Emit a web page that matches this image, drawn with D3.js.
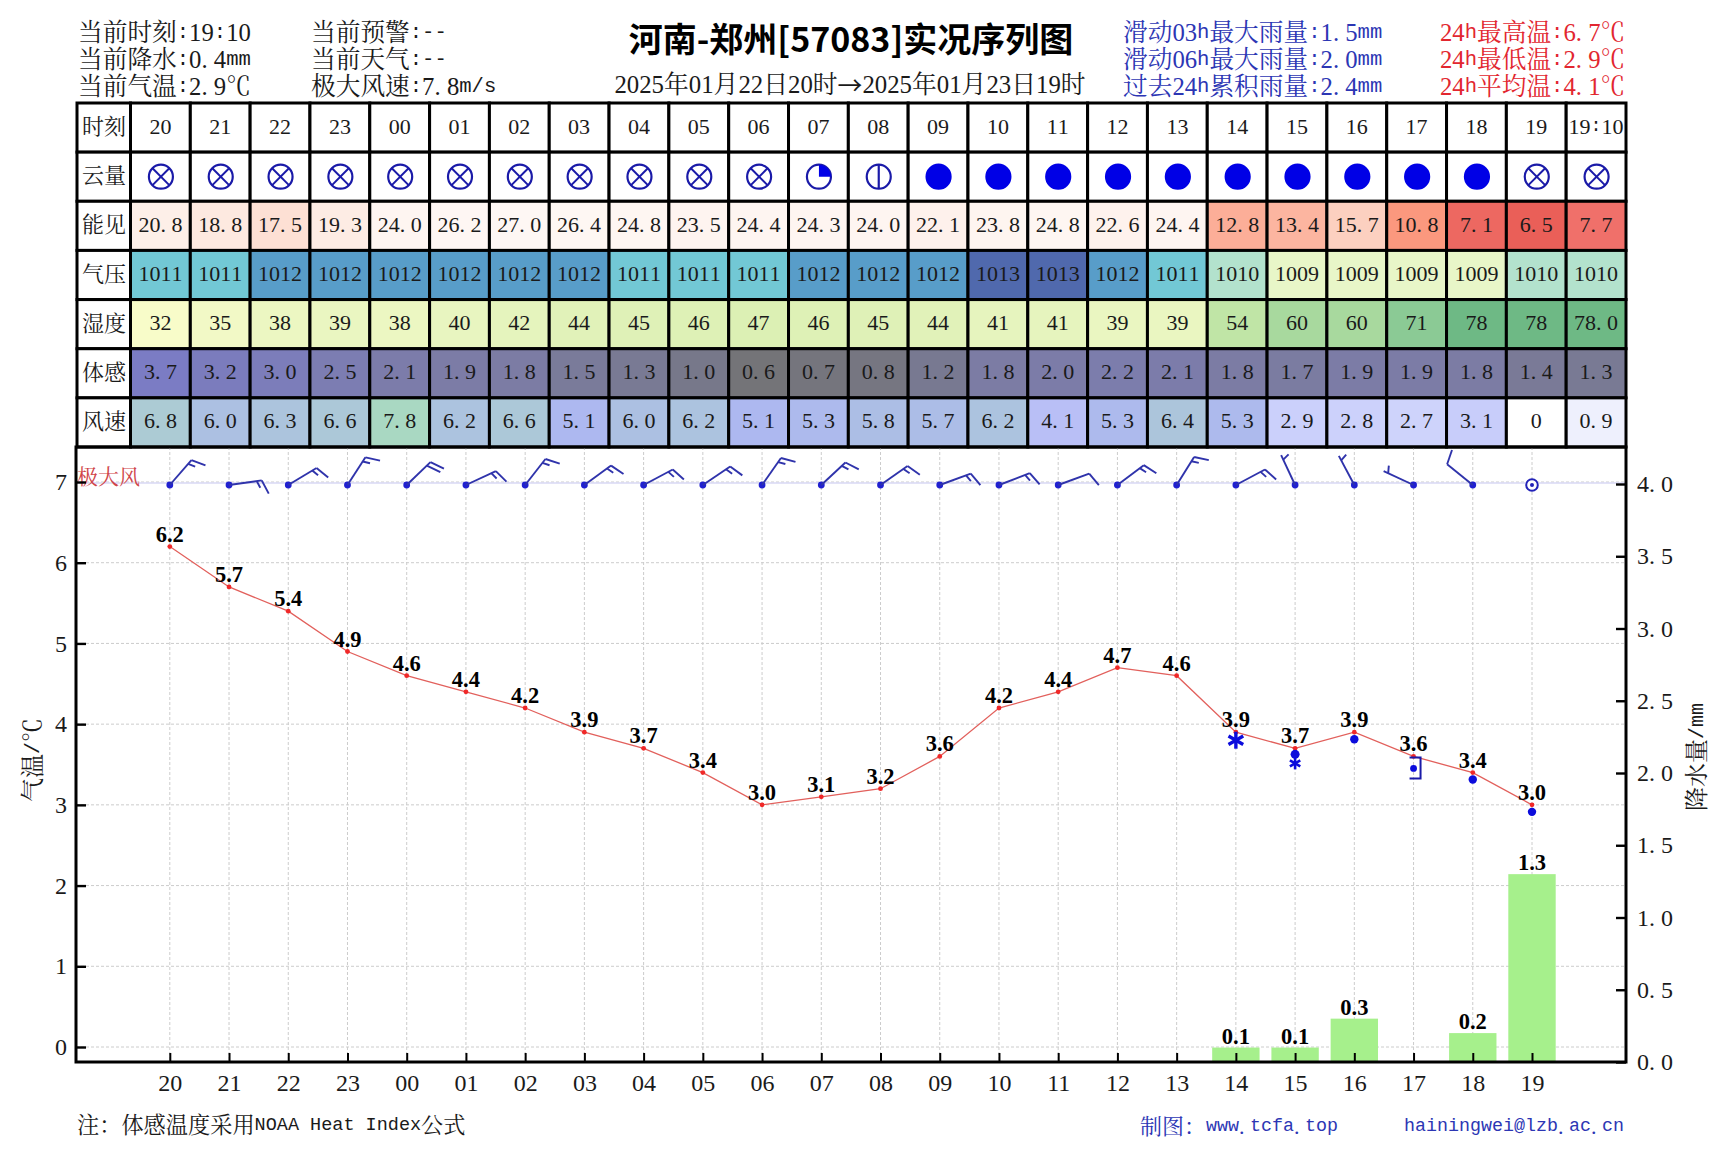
<!DOCTYPE html>
<html>
<head>
<meta charset="utf-8">
<script src="https://cdn.jsdelivr.net/npm/d3@7"></script>
<style>
  body { margin: 0; background: #fff; }
  text { font-family: "Liberation Serif", "Noto Serif CJK SC", "Noto Sans CJK SC", serif; fill: #1a1a1a; }
</style>
</head>
<body>
<div id="chart"></div>
<script>
// table columns
const hours = ['20','21','22','23','00','01','02','03','04','05','06','07','08','09','10','11','12','13','14','15','16','17','18','19','19:10'];
const rowNames = ['时刻','云量','能见','气压','湿度','体感','风速'];
const cloud = ['x','x','x','x','x','x','x','x','x','x','x','quarter','half','full','full','full','full','full','full','full','full','full','full','x','x'];
const visibility = ['20.8','18.8','17.5','19.3','24.0','26.2','27.0','26.4','24.8','23.5','24.4','24.3','24.0','22.1','23.8','24.8','22.6','24.4','12.8','13.4','15.7','10.8','7.1','6.5','7.7'];
const pressure = ['1011','1011','1012','1012','1012','1012','1012','1012','1011','1011','1011','1012','1012','1012','1013','1013','1012','1011','1010','1009','1009','1009','1009','1010','1010'];
const humidity = ['32','35','38','39','38','40','42','44','45','46','47','46','45','44','41','41','39','39','54','60','60','71','78','78','78.0'];
const feels = ['3.7','3.2','3.0','2.5','2.1','1.9','1.8','1.5','1.3','1.0','0.6','0.7','0.8','1.2','1.8','2.0','2.2','2.1','1.8','1.7','1.9','1.9','1.8','1.4','1.3'];
const windSpeed = ['6.8','6.0','6.3','6.6','7.8','6.2','6.6','5.1','6.0','6.2','5.1','5.3','5.8','5.7','6.2','4.1','5.3','6.4','5.3','2.9','2.8','2.7','3.1','0','0.9'];

// plot series, 24 hourly values
const plotHours = hours.slice(0, 24);
const temperature = [6.2,5.7,5.4,4.9,4.6,4.4,4.2,3.9,3.7,3.4,3.0,3.1,3.2,3.6,4.2,4.4,4.7,4.6,3.9,3.7,3.9,3.6,3.4,3.0];
const rainfall = [0,0,0,0,0,0,0,0,0,0,0,0,0,0,0,0,0,0,0.1,0.1,0.3,0,0.2,1.3];
const windDir = [41,82,59,33,46,65,38,54,62,56,35,47,55,70,69,70,53,32,62,335,332,295,309,0];
const wxHours = ['14','15','16','17','18','19'];
const wxCodes = ['snow','sleet','rain','shower','rain','rain'];

const tempTicks = [0,1,2,3,4,5,6,7];
const rainTicks = [0,0.5,1,1.5,2,2.5,3,3.5,4];

const infoLeft = ['当前时刻:19:10','当前降水:0.4mm','当前气温:2.9℃'];
const infoMid = ['当前预警:--','当前天气:--','极大风速:7.8m/s'];
const infoRain = ['滑动03h最大雨量:1.5mm','滑动06h最大雨量:2.0mm','过去24h累积雨量:2.4mm'];
const infoTemp = ['24h最高温:6.7℃','24h最低温:2.9℃','24h平均温:4.1℃'];

const width = 1727, height = 1155;
const plot = { left: 76, right: 1626, top: 447, bottom: 1062 };
const blue = '#2c36b4', red = '#e2262f', symbolBlue = '#0c0cdc';

const svg = d3.select('#chart').append('svg')
    .attr('width', width)
    .attr('height', height)
    .style('display', 'block');

// SimSun draws ascii at half an em, so every glyph gets its own x
function charWidth(c, size) {
    return c.charCodeAt(0) < 128 ? size / 2 : size;
}
function halfWidth(sel, x, size, anchor) {
    sel.each(function() {
        const t = d3.select(this);
        const chars = Array.from(t.text());
        const total = d3.sum(chars, c => charWidth(c, size));
        let cur = anchor === 'middle' ? x - total / 2 : anchor === 'end' ? x - total : x;
        t.text(null).attr('text-anchor', 'start').attr('x', null);
        chars.forEach(c => {
            const span = t.append('tspan').attr('x', cur.toFixed(1)).text(c);
            // letters and marks look closer to SimSun in a squeezed mono face
            if (/[A-Za-z:\-\/@]/.test(c)) {
                span.style('font-family', '"Liberation Mono", monospace').style('font-size', (size * 0.833) + 'px');
            }
            if (c === '→') span.style('font-family', '"Noto Sans CJK SC", sans-serif');
            cur += charWidth(c, size);
        });
    });
}
function label(parent, s, x, y, size, anchor, color) {
    return parent.append('text')
        .text(s)
        .attr('y', y)
        .attr('font-size', size)
        .attr('dominant-baseline', 'central')
        .style('fill', color || '#1a1a1a')
        .call(halfWidth, x, size, anchor);
}

// header
infoLeft.forEach((s, i) => label(svg, s, 78, 31.5 + i * 27.3, 24.7, 'start'));
infoMid.forEach((s, i) => label(svg, s, 311, 31.5 + i * 27.3, 24.7, 'start'));
infoRain.forEach((s, i) => label(svg, s, 1123, 31.5 + i * 27.3, 24.7, 'start', blue));
infoTemp.forEach((s, i) => label(svg, s, 1440, 31.5 + i * 27.3, 24.7, 'start', red));
svg.append('text')
    .text('河南-郑州[57083]实况序列图')
    .attr('x', 851).attr('y', 37)
    .attr('text-anchor', 'middle')
    .attr('dominant-baseline', 'central')
    .attr('font-size', 34)
    .attr('font-weight', 'bold')
    .style('font-family', '"Noto Sans CJK SC", sans-serif')
    .style('fill', '#000');
label(svg, '2025年01月22日20时→2025年01月23日19时', 850, 84, 24.8, 'middle');

// table scales
const colX = d3.scaleBand().domain(d3.range(hours.length)).range([130.5, 1626]);
const rowY = d3.scaleBand().domain(rowNames).range([103, 447]);

const visColor = d3.scaleLinear()
    .domain([6.5, 7.7, 10.8, 13.4, 15.7, 17.5, 19.3, 24, 27])
    .range(['#ea5f58', '#f0706a', '#fb987e', '#fcb5a0', '#fcd0c0', '#fde0d4', '#fdece4', '#fef5f1', '#fef7f4']);
const pressureColor = d3.scaleLinear()
    .domain([1009, 1010, 1011, 1012, 1013])
    .range(['#e8f6c8', '#b3e2cd', '#72c8d5', '#589dc9', '#5069ad']);
const humidityColor = d3.scaleLinear()
    .domain([32, 40, 47, 54, 60, 71, 78])
    .range(['#f8fcc9', '#e8f5c0', '#dcf0b4', '#c0e5a6', '#a8d99e', '#8bca95', '#6eb985']);
const feelsColor = d3.scaleLinear()
    .domain([0.6, 1.0, 1.8, 2.5, 3.7])
    .range(['#747478', '#77788a', '#7c7ca4', '#7c7db2', '#7b7cc4']);
const windColor = d3.scaleLinear()
    .domain([0, 0.9, 2.8, 4.1, 5.1, 6.0, 6.6, 7.8])
    .range(['#ffffff', '#eef0fd', '#ccd1fb', '#b9bff6', '#adb8f0', '#acc0e2', '#acc8d8', '#a9d8c2']);

const rows = [
    { name: '时刻', values: hours, color: () => '#fff' },
    { name: '云量', values: null, color: () => '#fff' },
    { name: '能见', values: visibility, color: visColor },
    { name: '气压', values: pressure, color: pressureColor },
    { name: '湿度', values: humidity, color: humidityColor },
    { name: '体感', values: feels, color: feelsColor },
    { name: '风速', values: windSpeed, color: windColor }
];

const table = svg.append('g');
rows.forEach(row => {
    const y0 = rowY(row.name), h = rowY.bandwidth();
    table.append('rect')
        .attr('x', 77).attr('y', y0)
        .attr('width', colX.range()[0] - 77).attr('height', h)
        .attr('fill', '#fff').attr('stroke', '#000').attr('stroke-width', 3);
    label(table, row.name, 104, y0 + h / 2 - 1.5, 22, 'middle');
    hours.forEach((_, i) => {
        const v = row.values ? row.values[i] : null;
        table.append('rect')
            .attr('x', colX(i)).attr('y', y0)
            .attr('width', colX.bandwidth()).attr('height', h)
            .attr('fill', v === null || row.name === '时刻' ? '#fff' : row.color(+v))
            .attr('stroke', '#000').attr('stroke-width', 3);
        if (v !== null) label(table, v, colX(i) + colX.bandwidth() / 2, y0 + h / 2 - 2, 22, 'middle');
    });
});

// cloud cover circles
const cloudR = 12;
const arc = d3.arc().innerRadius(0).outerRadius(cloudR).startAngle(0).endAngle(Math.PI / 2);
cloud.forEach((c, i) => {
    const g = table.append('g')
        .attr('transform', `translate(${colX(i) + colX.bandwidth() / 2 + 0.5},${rowY('云量') + rowY.bandwidth() / 2})`);
    g.append('circle')
        .attr('r', cloudR)
        .attr('fill', c === 'full' ? '#0000e6' : '#fff')
        .attr('stroke', c === 'full' ? '#0000e6' : '#1a1aa8')
        .attr('stroke-width', 2.2);
    if (c === 'quarter') g.append('path').attr('d', arc).attr('fill', '#0000e6');
    if (c === 'half') {
        g.append('line').attr('y1', -cloudR).attr('y2', cloudR).attr('stroke', '#1a1aa8').attr('stroke-width', 2.2);
    }
    if (c === 'x') {
        const d = cloudR * 0.72;
        [[-d, -d, d, d], [-d, d, d, -d]].forEach(l => {
            g.append('line')
                .attr('x1', l[0]).attr('y1', l[1]).attr('x2', l[2]).attr('y2', l[3])
                .attr('stroke', '#1a1aa8').attr('stroke-width', 2);
        });
    }
});

// plot scales
const x = d3.scalePoint().domain(plotHours).range([169.8, 1532]);
const yTemp = d3.scaleLinear().domain([0, 7]).range([1047, 482]);
const yRain = d3.scaleLinear().domain([0, 4]).range([plot.bottom, 484]);
const step = x.step();

// grid
const grid = svg.append('g')
    .attr('stroke', '#cccccc')
    .attr('stroke-width', 1)
    .attr('stroke-dasharray', '3,2');
plotHours.forEach(h => {
    grid.append('line')
        .attr('x1', x(h)).attr('x2', x(h))
        .attr('y1', plot.top).attr('y2', plot.bottom);
});
tempTicks.forEach(t => {
    grid.append('line')
        .attr('x1', plot.left).attr('x2', plot.right)
        .attr('y1', yTemp(t)).attr('y2', yTemp(t));
});

// rain bars
const bars = plotHours.map((h, i) => ({ h: h, v: rainfall[i] })).filter(d => d.v > 0);
svg.append('g').selectAll('rect')
    .data(bars)
    .enter()
    .append('rect')
    .attr('x', d => x(d.h) - step * 0.4)
    .attr('y', d => yRain(d.v))
    .attr('width', step * 0.8)
    .attr('height', d => plot.bottom - yRain(d.v))
    .attr('fill', '#a6f08c');
svg.append('g').selectAll('text')
    .data(bars)
    .enter()
    .append('text')
    .attr('x', d => x(d.h))
    .attr('y', d => yRain(d.v) - 4)
    .attr('text-anchor', 'middle')
    .attr('font-size', 22.5)
    .attr('font-weight', 'bold')
    .style('fill', '#000')
    .text(d => d.v.toFixed(1));

// temperature line
const line = d3.line()
    .x((d, i) => x(plotHours[i]))
    .y(d => yTemp(d));
svg.append('path')
    .attr('d', line(temperature))
    .attr('fill', 'none')
    .attr('stroke', '#e2605c')
    .attr('stroke-width', 1.3);
svg.append('g').selectAll('circle')
    .data(temperature)
    .enter()
    .append('circle')
    .attr('cx', (d, i) => x(plotHours[i]))
    .attr('cy', d => yTemp(d))
    .attr('r', 2.4)
    .attr('fill', '#f02828');
svg.append('g').selectAll('text')
    .data(temperature)
    .enter()
    .append('text')
    .attr('x', (d, i) => x(plotHours[i]))
    .attr('y', d => yTemp(d) - 5)
    .attr('text-anchor', 'middle')
    .attr('font-size', 22.5)
    .attr('font-weight', 'bold')
    .style('fill', '#000')
    .text(d => d.toFixed(1));

// weather symbols sit just under the temperature point
function drawStar(g, r, w) {
    [0, 60, 120].forEach(a => {
        g.append('line')
            .attr('y1', -r).attr('y2', r)
            .attr('transform', `rotate(${a})`)
            .attr('stroke', symbolBlue).attr('stroke-width', w);
    });
}
wxCodes.forEach((code, i) => {
    const h = wxHours[i];
    const g = svg.append('g')
        .attr('transform', `translate(${x(h)},${yTemp(temperature[plotHours.indexOf(h)])})`);
    if (code === 'rain') {
        g.append('circle').attr('cy', 7).attr('r', 4.2).attr('fill', symbolBlue);
    } else if (code === 'snow') {
        drawStar(g.append('g').attr('transform', 'translate(0,8)'), 8.5, 3.4);
    } else if (code === 'sleet') {
        g.append('circle').attr('cy', 6).attr('r', 4.5).attr('fill', symbolBlue);
        drawStar(g.append('g').attr('transform', 'translate(0,15)'), 6, 2.6);
    } else {
        g.append('circle').attr('cx', 0).attr('cy', 12).attr('r', 3.4).attr('fill', symbolBlue);
        g.append('path')
            .attr('d', 'M-4,1H7V22H-4')
            .attr('fill', 'none').attr('stroke', '#1a1aa8').attr('stroke-width', 2);
    }
});

// wind barbs, stem points to where the wind comes from
const stemLen = 33, barbLen = 15, barbGap = 5;
const windRow = svg.append('g');
const windY = yTemp(7) + 3;
windRow.append('line')
    .attr('x1', plot.left).attr('x2', plot.right)
    .attr('y1', windY - 2).attr('y2', windY - 2)
    .attr('stroke', '#d8d8f4').attr('stroke-width', 1.5);
plotHours.forEach((h, i) => {
    const s = +windSpeed[i];
    const g = windRow.append('g').attr('transform', `translate(${x(h)},${windY})`);
    if (s === 0) {
        g.append('circle').attr('r', 5.8).attr('fill', '#fff').attr('stroke', '#2222b8').attr('stroke-width', 2);
        g.append('circle').attr('r', 2).attr('fill', '#2222b8');
        return;
    }
    g.append('circle').attr('r', 3.4).attr('fill', '#2020d0');
    const b = g.append('g').attr('transform', `rotate(${windDir[i]})`)
        .attr('stroke', '#2f33ab').attr('stroke-width', 1.9).attr('fill', 'none');
    b.append('line').attr('y2', -stemLen);
    // half barbs: one per 2 m/s, two halves make a long feather
    const units = Math.floor((s + 1) / 2);
    const longs = Math.floor(units / 2), halves = units % 2;
    const ang = 70 * Math.PI / 180;
    const feather = (k, len) => {
        const y0 = -stemLen + k * barbGap;
        b.append('line')
            .attr('y1', y0)
            .attr('x2', Math.sin(ang) * len)
            .attr('y2', y0 - Math.cos(ang) * len);
    };
    d3.range(longs).forEach(k => feather(k, barbLen));
    // a lone half barb stays one gap down from the tip
    if (halves) feather(Math.max(longs, 1), barbLen / 2);
});
label(svg, '极大风', 77, 477, 21, 'start', '#d0454a');

// frame and axes
svg.append('rect')
    .attr('x', plot.left).attr('y', plot.top)
    .attr('width', plot.right - plot.left).attr('height', plot.bottom - plot.top)
    .attr('fill', 'none').attr('stroke', '#000').attr('stroke-width', 3);

function styleAxis(g, px, anchor) {
    g.select('.domain').remove();
    g.selectAll('.tick line').attr('stroke', '#000').attr('stroke-width', 2.4);
    g.selectAll('.tick text')
        .attr('font-size', 24)
        .style('fill', '#1a1a1a')
        .call(halfWidth, px, 24, anchor);
}
svg.append('g')
    .attr('transform', `translate(${plot.left},0)`)
    .call(d3.axisLeft(yTemp).tickValues(tempTicks).tickFormat(d3.format('d')).tickSizeInner(-10).tickSizeOuter(0).tickPadding(9))
    .call(g => g.attr('font-family', null))
    .call(styleAxis, -9, 'end');
svg.append('g')
    .attr('transform', `translate(${plot.right},0)`)
    .call(d3.axisRight(yRain).tickValues(rainTicks).tickFormat(d3.format('.1f')).tickSizeInner(-10).tickSizeOuter(0).tickPadding(11))
    .call(g => g.attr('font-family', null))
    .call(styleAxis, 11, 'start');
svg.append('g')
    .attr('transform', `translate(0,${plot.bottom})`)
    .call(d3.axisBottom(x).tickSizeInner(-9).tickSizeOuter(0).tickPadding(12))
    .call(g => g.attr('font-family', null))
    .call(g => {
        g.select('.domain').remove();
        g.selectAll('.tick line').attr('stroke', '#000').attr('stroke-width', 2);
        g.selectAll('.tick text').attr('font-size', 24).style('fill', '#1a1a1a');
    });

// axis titles
svg.append('g').attr('transform', 'translate(33,760) rotate(-90)')
    .call(g => label(g, '气温/℃', 0, 0, 24, 'middle'));
svg.append('g').attr('transform', 'translate(1697,757) rotate(-90)')
    .call(g => label(g, '降水量/mm', 0, 0, 24, 'middle'));

// footer
label(svg, '注：体感温度采用NOAA Heat Index公式', 77, 1125, 22.2, 'start');
label(svg, '制图：www.tcfa.top', 1140, 1126, 22, 'start', blue);
label(svg, 'hainingwei@lzb.ac.cn', 1404, 1126, 22, 'start', blue);
</script>
</body>
</html>
